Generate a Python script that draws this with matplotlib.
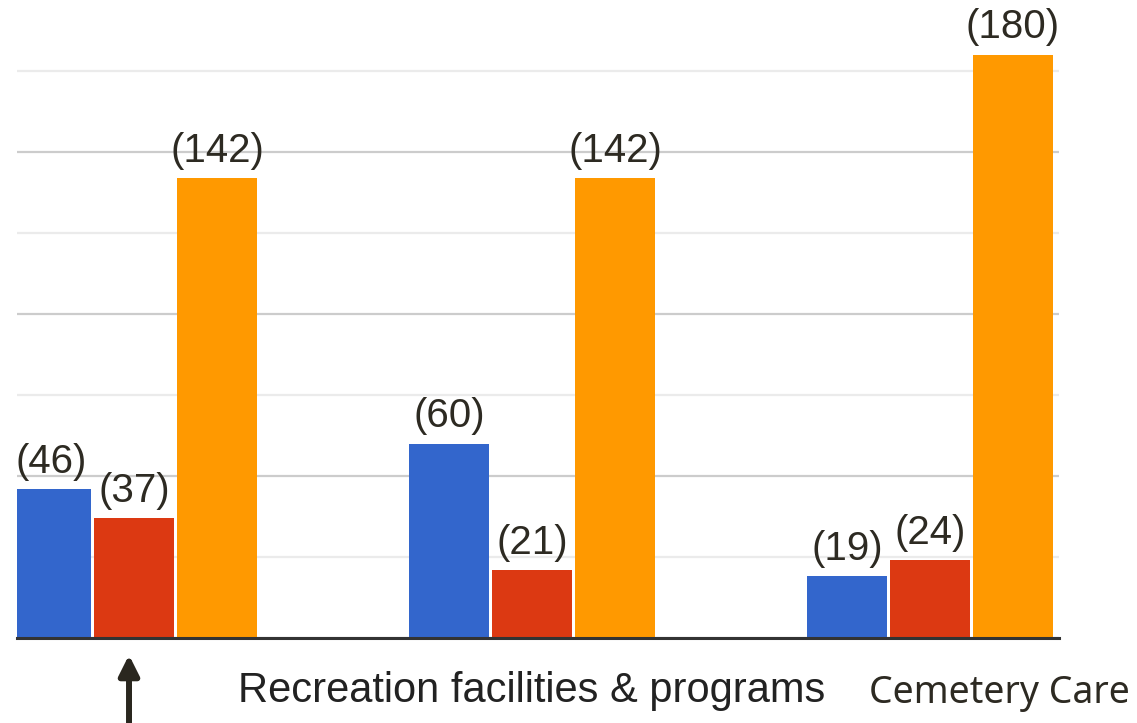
import matplotlib
matplotlib.use("Agg")
import matplotlib.pyplot as plt
import numpy as np
from matplotlib.ticker import MultipleLocator, NullFormatter
from matplotlib.transforms import blended_transform_factory, offset_copy

# data
categories = ["", "Recreation facilities & programs", "Cemetery Care"]
series_a = [46, 60, 19]
series_b = [37, 21, 24]
series_c = [142, 142, 180]

colours = ["#3366cc", "#dc3912", "#ff9900"]
txt_col = "#2d2a22"

fig = plt.figure(figsize=(11.37, 7.23), dpi=100)
ax = fig.add_axes([0.01495, 0.1176, 0.9164, 0.8515])

x = np.arange(len(categories))
w = 0.2
off = 0.2085

for k, (vals, c) in enumerate(zip([series_a, series_b, series_c], colours)):
    pos = x + (k - 1) * off
    bars = ax.bar(pos, vals, width=w, color=c, zorder=3)
    for xp, v in zip(pos, vals):
        ax.annotate("(%d)" % v, xy=(xp, v), xytext=(0, 6), textcoords="offset points",
                    ha="center", va="bottom", fontsize=29, color=txt_col,
                    family="Liberation Sans", zorder=4, annotation_clip=False)

ax.set_xlim(-0.294, 2.324)
ax.set_ylim(0, 190)

ax.yaxis.set_major_locator(MultipleLocator(50))
ax.yaxis.set_minor_locator(MultipleLocator(25))
ax.yaxis.set_major_formatter(NullFormatter())
ax.grid(which="major", axis="y", color="#cccccc", linewidth=1.6, zorder=0)
ax.grid(which="minor", axis="y", color="#ebebeb", linewidth=1.6, zorder=0)
ax.tick_params(axis="both", which="both", length=0, labelleft=False, labelbottom=False)
ax.set_axisbelow(True)

for s in ["left", "right", "top"]:
    ax.spines[s].set_visible(False)
ax.spines["bottom"].set_color("#333333")
ax.spines["bottom"].set_linewidth(2.2)
ax.spines["bottom"].set_zorder(5)

# category labels
base = blended_transform_factory(ax.transData, ax.transAxes)
ax.annotate(categories[1], xy=(x[1], 0), xycoords=base, xytext=(0, -46),
            textcoords="offset points", ha="center", va="baseline",
            fontsize=30, color="#222222", family="Liberation Sans",
            annotation_clip=False)
ax.annotate(categories[2], xy=(x[2], 0), xycoords=base, xytext=(50, -47),
            textcoords="offset points", ha="center", va="baseline",
            fontsize=27, color=txt_col, family="Noto Sans",
            annotation_clip=False)

# arrow under the first group
ax.annotate("", xy=(0, 0), xycoords=offset_copy(base, fig=fig, x=-5, y=-17, units="dots"),
            xytext=(0, 0), textcoords=offset_copy(base, fig=fig, x=-5, y=-90, units="dots"),
            arrowprops=dict(arrowstyle="-|>,head_length=0.6,head_width=0.3",
                            mutation_scale=20, lw=4.3, color="#2a271f",
                            shrinkA=0, shrinkB=0),
            annotation_clip=False)

fig.savefig("out.png", dpi=100)
